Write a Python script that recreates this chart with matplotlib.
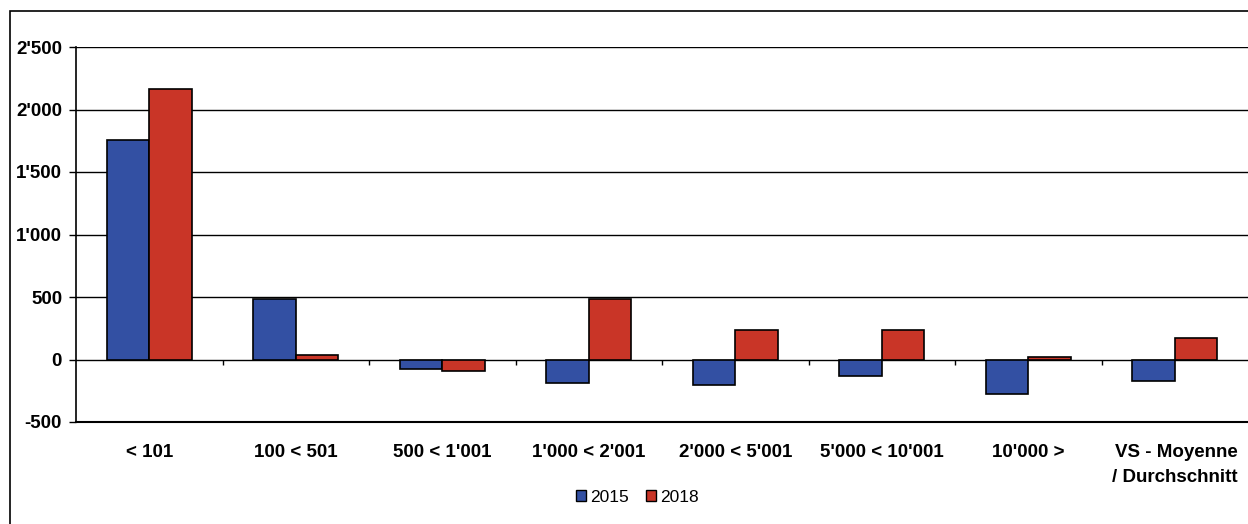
import matplotlib
matplotlib.use("Agg")
import matplotlib.pyplot as plt
from matplotlib.patches import Rectangle, Patch
import numpy as np

categories = ["< 101", "100 < 501", "500 < 1'001", "1'000 < 2'001", "2'000 < 5'001",
              "5'000 < 10'001", "10'000 >", "VS - Moyenne\n/ Durchschnitt"]
series_names = ["2015", "2018"]
values_2015 = [1760, 486, -74, -186, -203, -133, -272, -173]
values_2018 = [2165, 37, -88, 488, 235, 235, 24, 176]
y_ticks = [-500, 0, 500, 1000, 1500, 2000, 2500]
y_tick_labels = ["-500", "0", "500", "1'000", "1'500", "2'000", "2'500"]

c_blue = "#3350A3"
c_red = "#C93527"

plt.rcParams['font.family'] = ['Liberation Sans', 'DejaVu Sans']

fig = plt.figure(figsize=(12.48, 5.24), dpi=100)
ax = fig.add_axes([76/1248, 1-422/524, 1-76/1248, (422-47)/524])

x = np.arange(len(categories))
w = 0.29
ax.bar(x - w/2, values_2015, width=w, color=c_blue, edgecolor="black", linewidth=1.2, zorder=3, label=series_names[0])
ax.bar(x + w/2, values_2018, width=w, color=c_red, edgecolor="black", linewidth=1.2, zorder=3, label=series_names[1])

ax.set_xlim(-0.5, len(categories) - 0.5)
ax.set_ylim(-500, 2500)
ax.set_yticks(y_ticks)
ax.set_yticklabels(y_tick_labels, fontsize=13.5, fontweight="bold")
ax.tick_params(axis="y", length=5, width=1, direction="out", pad=5)

ax.set_xticks(x)
ax.set_xticklabels(categories, fontsize=13.5, fontweight="bold", linespacing=1.6)
ax.tick_params(axis="x", length=0, pad=16)
for i, lbl in enumerate(ax.get_xticklabels()):
    lbl.set_verticalalignment("top")
    lbl.set_multialignment("right")
ax.get_xticklabels()[-1].set_x(7.06)

for yv in y_ticks[1:]:
    ax.axhline(yv, color="black", linewidth=1.0, zorder=2)

# category boundary ticks on the zero line
bounds = np.arange(len(categories) - 1) + 0.5
ax.vlines(bounds, -45, 0, color="black", linewidth=1.0, zorder=2)

for s in ["top", "right"]:
    ax.spines[s].set_visible(False)
ax.spines["left"].set_linewidth(1.2)
ax.spines["bottom"].set_linewidth(1.5)

handles = [Patch(facecolor=c_blue, edgecolor="black", linewidth=1.0),
           Patch(facecolor=c_red, edgecolor="black", linewidth=1.0)]
fig.legend(handles, series_names, loc="center", bbox_to_anchor=(637/1248, 1-497/524),
           ncol=2, frameon=False, fontsize=12.5, handlelength=0.6, handleheight=0.6,
           handletextpad=0.2, columnspacing=1.0)

fig.patches.append(Rectangle((10/1248, -0.01), 1.1, 1 - 11/524 + 0.01, transform=fig.transFigure,
                             fill=False, edgecolor="black", linewidth=1.2))

fig.savefig("out.png", dpi=100)
